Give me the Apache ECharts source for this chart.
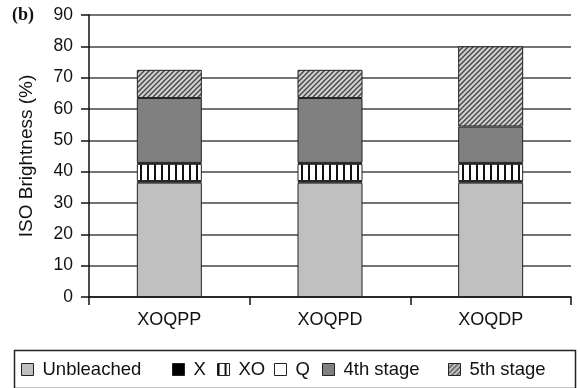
<!DOCTYPE html>
<html><head><meta charset="utf-8">
<script src="https://cdn.jsdelivr.net/npm/echarts@6/dist/echarts.min.js"></script>
<style>html,body{margin:0;padding:0;background:#fff}#c{width:580px;height:388px}</style>
</head><body><div id="c"></div>
<script>
var categories = ['XOQPP', 'XOQPD', 'XOQDP'];
var seriesNames = ['Unbleached', 'X', 'XO', 'Q', '4th stage', '5th stage'];
var unbleached = [36.5, 36.5, 36.5];
var xStage = [0.5, 0.5, 0.5];
var xoStage = [5.5, 5.5, 5.5];
var qStage = [0.3, 0.3, 0.3];
var stage4 = [20.7, 20.7, 11.6];
var stage5 = [9.0, 9.0, 25.6];
var yTicks = [0, 10, 20, 30, 40, 50, 60, 70, 80, 90];

function stripes() {
  var c = document.createElement('canvas'); c.width = 7; c.height = 7;
  var g = c.getContext('2d');
  g.fillStyle = '#fff'; g.fillRect(0, 0, 7, 7);
  g.fillStyle = '#111'; g.fillRect(0, 0, 2, 7);
  return c;
}
function hatch() {
  var s = 5;
  var c = document.createElement('canvas'); c.width = s; c.height = s;
  var g = c.getContext('2d');
  g.fillStyle = '#d0d0d0'; g.fillRect(0, 0, s, s);
  g.strokeStyle = '#444'; g.lineWidth = 1.4;
  g.beginPath();
  g.moveTo(-1, s + 1); g.lineTo(s + 1, -1);
  g.moveTo(-1, 1); g.lineTo(1, -1);
  g.moveTo(s - 1, s + 1); g.lineTo(s + 1, s - 1);
  g.stroke();
  return c;
}
var colors = [
  '#c0c0c0',
  '#000000',
  {image: stripes(), repeat: 'repeat'},
  '#ffffff',
  '#808080',
  {image: hatch(), repeat: 'repeat'}
];
var dataArr = [unbleached, xStage, xoStage, qStage, stage4, stage5];

var chart = echarts.init(document.getElementById('c'), null, {renderer: 'canvas'});
var series = seriesNames.map(function (n, i) {
  return {
    name: n, type: 'bar', stack: 'all', data: dataArr[i],
    barWidth: 65,
    itemStyle: {color: colors[i], borderColor: '#222', borderWidth: 1},
    emphasis: {disabled: true}
  };
});
var legendLefts = [21, 172, 217, 274, 322, 448];
var legends = seriesNames.map(function (n, i) {
  return {
    data: [n], left: legendLefts[i], top: 360, itemWidth: 12, itemHeight: 12,
    itemGap: 0, icon: 'rect', selectedMode: false, padding: 0,
    textStyle: {fontFamily: 'Liberation Sans, Arial', fontSize: 18.5, color: '#111', padding: [0, 0, 0, 4]},
    itemStyle: {borderColor: '#222', borderWidth: 1}
  };
});
chart.setOption({
  animation: false,
  backgroundColor: '#fff',
  grid: {left: 89, right: 9, top: 15, bottom: 91, containLabel: false},
  legend: legends,
  xAxis: {
    type: 'category', data: categories,
    axisLine: {lineStyle: {color: '#111', width: 1.5}},
    axisTick: {show: true, alignWithLabel: false, length: 8, lineStyle: {color: '#111', width: 1.5}},
    axisLabel: {fontFamily: 'Liberation Sans, Arial', fontSize: 18, color: '#111', margin: 14}
  },
  yAxis: {
    type: 'value', min: yTicks[0], max: yTicks[yTicks.length - 1], interval: 10,
    name: 'ISO Brightness (%)', nameLocation: 'middle', nameGap: 53, nameRotate: 90,
    nameTextStyle: {fontFamily: 'Liberation Sans, Arial', fontSize: 19, color: '#111'},
    axisLine: {show: true, lineStyle: {color: '#111', width: 1.5}},
    axisTick: {show: true, length: 8, lineStyle: {color: '#111', width: 1.5}},
    axisLabel: {fontFamily: 'Liberation Sans, Arial', fontSize: 17.5, color: '#111', margin: 16},
    splitLine: {show: true, lineStyle: {color: '#444', width: 1.5}}
  },
  graphic: [
    {type: 'rect', left: 12, top: 348, shape: {width: 561, height: 38},
     style: {fill: 'none', stroke: '#222', lineWidth: 1.5}, z: 0},
    {type: 'text', left: 12, top: 6,
     style: {text: '(b)', font: 'bold 18px "Liberation Serif", "Times New Roman", serif', fill: '#111'}}
  ],
  series: series
});
</script>
</body></html>
